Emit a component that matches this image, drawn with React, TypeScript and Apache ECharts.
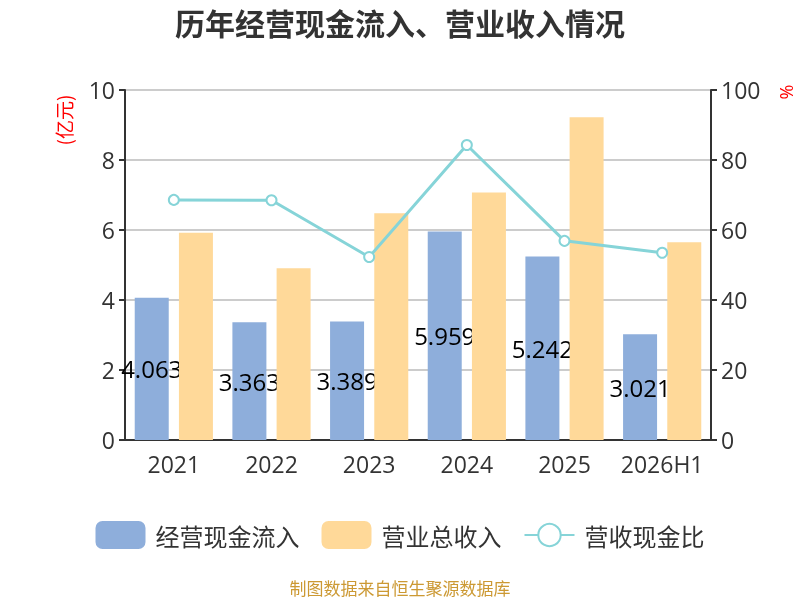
import React, { useEffect, useRef } from "react";
import * as echarts from "echarts";

const categories = ["2021", "2022", "2023", "2024", "2025", "2026H1"];
const cashInflow = [4.063, 3.363, 3.389, 5.959, 5.242, 3.021];
const revenue = [5.92, 4.91, 6.48, 7.07, 9.22, 5.65];
const ratio = [68.6, 68.5, 52.3, 84.3, 56.9, 53.5];

const FONT = "'Open Sans', 'Noto Sans CJK SC', sans-serif";
const CJK = "'Noto Sans CJK SC', sans-serif";

export default function App() {
  const ref = useRef<HTMLDivElement>(null);
  useEffect(() => {
    if (!ref.current) return;
    const chart = echarts.init(ref.current, undefined, { renderer: "svg" });
    chart.setOption({
      animation: false,
      textStyle: { fontFamily: FONT },
      title: {
        text: "历年经营现金流入、营业收入情况",
        left: "center",
        top: 2,
        textStyle: { fontSize: 30, fontWeight: "bold", color: "#333", fontFamily: CJK },
      },
      grid: { left: 125, right: 89, top: 90, bottom: 160 },
      legend: {
        top: 516,
        left: "center",
        itemWidth: 50,
        itemHeight: 28,
        itemGap: 22,
        textStyle: { fontSize: 24, color: "#333", fontFamily: CJK, padding: [0, 0, 0, 5] },
        data: ["经营现金流入", "营业总收入", "营收现金比"],
      },
      graphic: [
        {
          type: "text",
          x: 63,
          y: 120,
          rotation: Math.PI / 2,
          style: {
            text: "(亿元)",
            fill: "#ff0000",
            fontSize: 19,
            fontFamily: CJK,
            textAlign: "center",
            textVerticalAlign: "middle",
          },
        },
        {
          type: "text",
          x: 786,
          y: 92,
          rotation: Math.PI / 2,
          style: {
            text: "%",
            fill: "#ff0000",
            fontSize: 18,
            fontFamily: FONT,
            textAlign: "center",
            textVerticalAlign: "middle",
          },
        },
        {
          type: "text",
          x: 400,
          y: 587,
          style: {
            text: "制图数据来自恒生聚源数据库",
            fill: "#cc9933",
            fontSize: 17,
            fontFamily: CJK,
            textAlign: "center",
            textVerticalAlign: "middle",
          },
        },
      ],
      xAxis: {
        type: "category",
        data: categories,
        axisLine: { lineStyle: { color: "#333", width: 2 } },
        axisTick: { lineStyle: { color: "#333", width: 2 }, length: 6 },
        axisLabel: { fontSize: 23, color: "#333", margin: 12, fontFamily: FONT, interval: 0 },
      },
      yAxis: [
        {
          type: "value",
          min: 0,
          max: 10,
          interval: 2,
          axisLine: { show: true, lineStyle: { color: "#333", width: 2 } },
          axisTick: { show: true, lineStyle: { color: "#333", width: 2 }, length: 6 },
          axisLabel: { fontSize: 23, color: "#333", margin: 10, fontFamily: FONT },
          splitLine: { lineStyle: { color: "#ccc", width: 2 } },
        },
        {
          type: "value",
          min: 0,
          max: 100,
          interval: 20,
          position: "right",
          axisLine: { show: true, lineStyle: { color: "#333", width: 2 } },
          axisTick: { show: true, lineStyle: { color: "#333", width: 2 }, length: 6 },
          axisLabel: { fontSize: 23, color: "#333", margin: 10, fontFamily: FONT },
          splitLine: { show: false },
        },
      ],
      series: [
        {
          name: "经营现金流入",
          type: "bar",
          data: cashInflow,
          barWidth: 34,
          barGap: "30%",
          z: 2,
          itemStyle: { color: "#8eaedb" },
          label: {
            show: true,
            position: "inside",
            color: "#000",
            fontSize: 24,
            fontFamily: FONT,
            textBorderWidth: 0,
          },
        },
        {
          name: "营业总收入",
          type: "bar",
          data: revenue,
          barWidth: 34,
          barGap: "30%",
          z: 3,
          itemStyle: { color: "#ffd999" },
        },
        {
          name: "营收现金比",
          type: "line",
          yAxisIndex: 1,
          data: ratio,
          z: 4,
          symbol: "emptyCircle",
          symbolSize: 10,
          lineStyle: { color: "#86d4d8", width: 3 },
          itemStyle: { color: "#86d4d8", borderWidth: 2 },
        },
      ],
    });
    return () => chart.dispose();
  }, []);
  return (
    <div
      ref={ref}
      style={{ width: 800, height: 600, position: "fixed", left: 0, top: 0 }}
    />
  );
}
